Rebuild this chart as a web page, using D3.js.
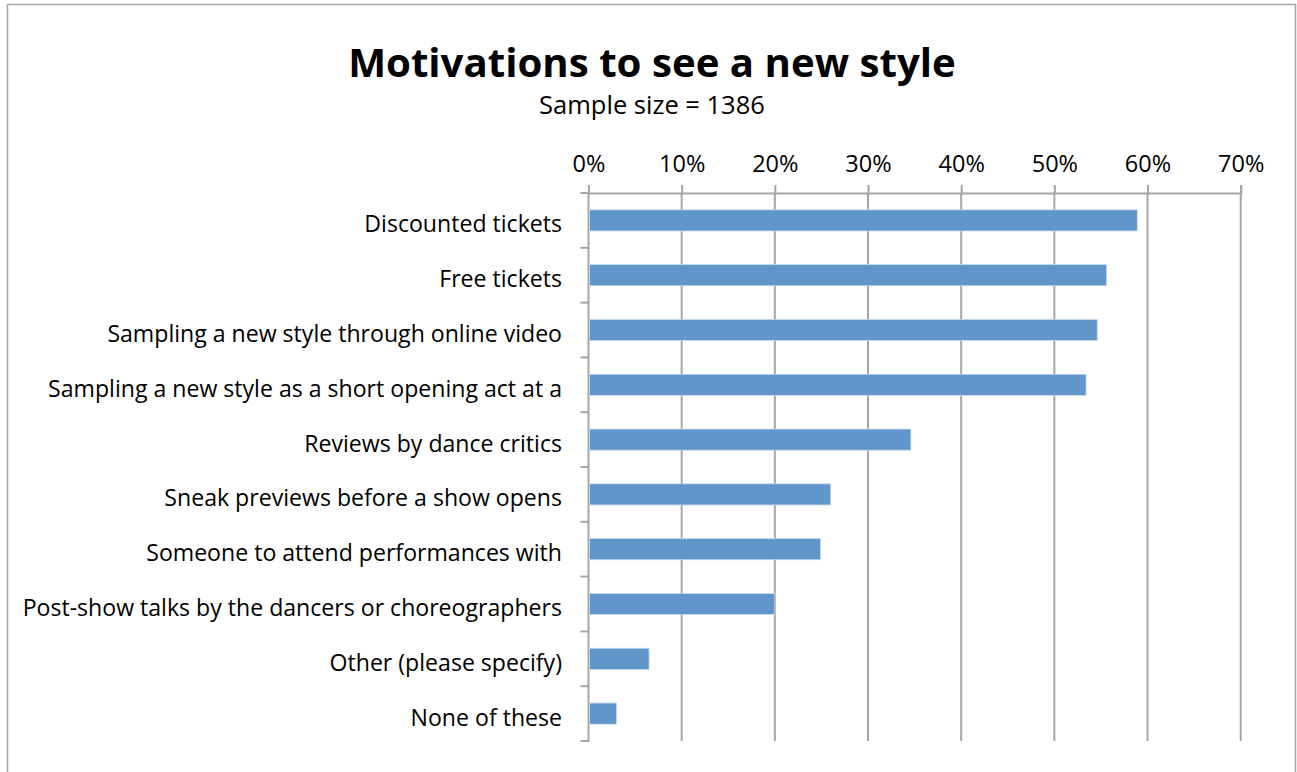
<!DOCTYPE html>
<html>
<head>
<meta charset="utf-8">
<script src="https://cdn.jsdelivr.net/npm/d3@7"></script>
<style>
  html, body { margin: 0; padding: 0; background: #fff; }
  svg { display: block; font-family: "Open Sans", sans-serif; }
</style>
</head>
<body>
<svg id="chart" width="1297" height="772"></svg>
<script>
// Survey answers: what would motivate respondents to see a new dance style
const categories = [
  "Discounted tickets",
  "Free tickets",
  "Sampling a new style through online video",
  "Sampling a new style as a short opening act at a",
  "Reviews by dance critics",
  "Sneak previews before a show opens",
  "Someone to attend performances with",
  "Post-show talks by the dancers or choreographers",
  "Other (please specify)",
  "None of these"
];
const shares = [58.9, 55.6, 54.6, 53.4, 34.6, 26.0, 24.9, 20.0, 6.5, 3.0];
const tickValues = [0, 10, 20, 30, 40, 50, 60, 70];
const titleText = "Motivations to see a new style";
const subtitleText = "Sample size = 1386";

const svg = d3.select("#chart");
const plot = { left: 588.5, right: 1240.7, top: 193, bottom: 741 };

// Outer chart frame
svg.append("rect")
  .attr("x", 7.5).attr("y", 4.5)
  .attr("width", 1288).attr("height", 800)
  .attr("fill", "#fff")
  .attr("stroke", "#a6a6a6").attr("stroke-width", 1.5);

const x = d3.scaleLinear().domain([0, 70]).range([plot.left, plot.right]);
const y = d3.scaleBand().domain(categories).range([plot.top, plot.bottom]).paddingInner(0.615).paddingOuter(0.3075);
const yEdges = d3.scaleLinear().domain([0, categories.length]).range([plot.top, plot.bottom]);

// Vertical gridlines
svg.append("g")
  .selectAll("line")
  .data(tickValues.slice(1))
  .join("line")
  .attr("x1", d => x(d)).attr("x2", d => x(d))
  .attr("y1", plot.top).attr("y2", plot.bottom)
  .attr("stroke", "#a6a6a6").attr("stroke-width", 2);

// Top percentage axis
const xAxis = d3.axisTop(x)
  .tickValues(tickValues)
  .tickFormat(d => d + "%")
  .tickSize(8)
  .tickPadding(13);
const gx = svg.append("g").attr("transform", `translate(0,${plot.top})`).call(xAxis);
gx.select(".domain").attr("stroke", "#a6a6a6").attr("stroke-width", 2);
gx.selectAll(".tick line").attr("stroke", "#a6a6a6").attr("stroke-width", 2);
gx.selectAll(".tick text")
  .attr("font-size", 23.5).attr("fill", "#000")
  .attr("font-family", "'Open Sans', sans-serif");

// Left category axis (ticks between categories)
const gy = svg.append("g");
gy.append("line")
  .attr("x1", plot.left).attr("x2", plot.left)
  .attr("y1", plot.top).attr("y2", plot.bottom + 1)
  .attr("stroke", "#a6a6a6").attr("stroke-width", 2);
gy.selectAll("line.tk")
  .data(d3.range(categories.length + 1))
  .join("line").attr("class", "tk")
  .attr("x1", plot.left - 8).attr("x2", plot.left)
  .attr("y1", d => yEdges(d)).attr("y2", d => yEdges(d))
  .attr("stroke", "#a6a6a6").attr("stroke-width", 2);
gy.selectAll("text")
  .data(categories)
  .join("text")
  .attr("x", 562)
  .attr("y", d => y(d) + y.bandwidth() / 2 + 12)
  .attr("text-anchor", "end")
  .attr("font-size", 23.1)
  .attr("fill", "#000")
  .text(d => d);

// Bars
svg.append("g")
  .selectAll("rect")
  .data(shares)
  .join("rect")
  .attr("x", x(0) + 1)
  .attr("y", (d, i) => y(categories[i]))
  .attr("width", d => x(d) - x(0) - 1)
  .attr("height", y.bandwidth())
  .attr("fill", "#6096c9")
  .attr("stroke", "#c8daee").attr("stroke-width", 0.8);

// Titles
svg.append("text")
  .attr("x", 652).attr("y", 77)
  .attr("text-anchor", "middle")
  .attr("font-size", 40.2).attr("font-weight", "bold")
  .attr("fill", "#000")
  .text(titleText);
svg.append("text")
  .attr("x", 652).attr("y", 114)
  .attr("text-anchor", "middle")
  .attr("font-size", 25.5)
  .attr("fill", "#000")
  .text(subtitleText);
</script>
</body>
</html>
